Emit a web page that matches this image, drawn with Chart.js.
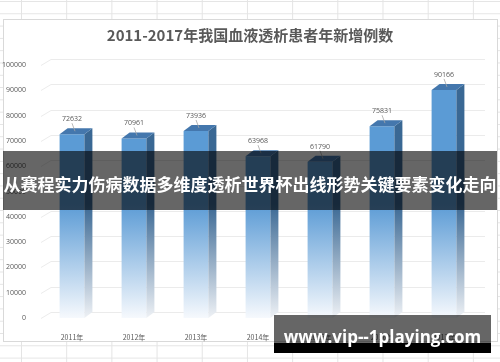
<!DOCTYPE html>
<html>
<head>
<meta charset="utf-8">
<script src="https://cdn.jsdelivr.net/npm/chart.js@4"></script>
<style>
  body {
    margin: 0;
    width: 500px;
    height: 362px;
    position: relative;
    overflow: hidden;
    background-color: #fff;
    background-image:
      linear-gradient(to right, #e4e4e4 1px, transparent 1px),
      linear-gradient(to bottom, #e4e4e4 1px, transparent 1px);
    background-size: 45.2px 12.3px;
    background-position: 21px 1px;
  }
  #frame {
    position: absolute;
    left: 3px; top: 19px;
    width: 495px; height: 323px;
    box-sizing: border-box;
    background: #fff;
    border: 1px solid #d9d9d9;
  }
  #c { position: absolute; left: 0; top: 0; }
  .banner {
    position: absolute;
    left: 3px; top: 151px;
    width: 494px; height: 59px;
    background: rgba(0, 0, 0, 0.6);
    color: #fff;
    font: bold 17px "Noto Sans CJK SC", sans-serif;
    text-align: center;
    line-height: 66px;
    white-space: nowrap;
  }
  .mark {
    position: absolute;
    left: 274px; top: 315px;
    width: 217px; height: 38px;
    background: linear-gradient(to bottom, rgba(0, 0, 0, 0.6) 0, rgba(0, 0, 0, 0.6) 73%, #000 73%);
    color: #fff;
    font: bold 17px "Open Sans", sans-serif;
    text-align: center;
    line-height: 44px;
    white-space: nowrap;
  }
</style>
</head>
<body>
<div id="frame"></div>
<canvas id="c" width="500" height="362"></canvas>
<div class="banner">从赛程实力伤病数据多维度透析世界杯出线形势关键要素变化走向</div>
<div class="mark">www.vip--1playing.com</div>
<script>
// data
const years = ['2011年', '2012年', '2013年', '2014年', '2015年', '2016年', '2017年'];
const newCases = [72632, 70961, 73936, 63968, 61790, 75831, 90166];
const yMax = 100000;
const yStep = 10000;
const chartTitle = '2011-2017年我国血液透析患者年新增例数';

// 3d look
const BAR_DX = 8, BAR_DY = 6;
const GRID_DX = 10, GRID_DY = 6;

function vGradient(chart, top, bottom, color, fade) {
    const g = chart.ctx.createLinearGradient(0, top, 0, bottom);
    g.addColorStop(0, color);
    g.addColorStop(0.55, color);
    g.addColorStop(1, fade);
    return g;
}

// back wall grid lines with a little perspective
const gridPlugin = {
    id: 'grid3d',
    beforeDatasetsDraw(chart) {
        const { ctx, chartArea } = chart;
        const yScale = chart.scales.y;
        ctx.save();
        ctx.strokeStyle = '#ebebeb';
        ctx.lineWidth = 1;
        yScale.ticks.forEach((t) => {
            const y = Math.round(yScale.getPixelForValue(t.value)) + 0.5;
            ctx.beginPath();
            ctx.moveTo(chartArea.left, y);
            ctx.lineTo(chartArea.left + GRID_DX, y - GRID_DY);
            ctx.lineTo(chartArea.right + GRID_DX, y - GRID_DY);
            ctx.stroke();
        });
        ctx.restore();
    }
};

// side + top faces, value labels with leader lines
const barPlugin = {
    id: 'bars3d',
    afterDatasetsDraw(chart) {
        const { ctx, chartArea } = chart;
        const meta = chart.getDatasetMeta(0);
        const sideFill = vGradient(chart, chartArea.top, chartArea.bottom, '#3a6894', '#eef1f5');
        ctx.save();
        meta.data.forEach((bar, i) => {
            const half = bar.width / 2;
            const l = bar.x - half, r = bar.x + half;

            ctx.fillStyle = sideFill;
            ctx.beginPath();
            ctx.moveTo(r, bar.y);
            ctx.lineTo(r + BAR_DX, bar.y - BAR_DY);
            ctx.lineTo(r + BAR_DX, bar.base - BAR_DY);
            ctx.lineTo(r, bar.base);
            ctx.closePath();
            ctx.fill();

            ctx.fillStyle = '#4477ad';
            ctx.beginPath();
            ctx.moveTo(l, bar.y);
            ctx.lineTo(l + BAR_DX, bar.y - BAR_DY);
            ctx.lineTo(r + BAR_DX, bar.y - BAR_DY);
            ctx.lineTo(r, bar.y);
            ctx.closePath();
            ctx.fill();

            // leader line
            ctx.strokeStyle = '#a6a6a6';
            ctx.lineWidth = 0.8;
            ctx.beginPath();
            ctx.moveTo(bar.x, bar.y - 11);
            ctx.lineTo(bar.x + 3, bar.y - 3);
            ctx.stroke();

            ctx.fillStyle = '#595959';
            ctx.font = '7px "Open Sans", sans-serif';
            ctx.textAlign = 'center';
            ctx.textBaseline = 'middle';
            ctx.fillText(String(newCases[i]), bar.x, bar.y - 15);
        });
        ctx.restore();
    }
};

// title centred on the whole frame, not on the plot
const titlePlugin = {
    id: 'frameTitle',
    afterDraw(chart) {
        const { ctx } = chart;
        ctx.save();
        ctx.fillStyle = '#595959';
        ctx.font = 'bold 15px "Noto Sans CJK SC", sans-serif';
        ctx.textAlign = 'center';
        ctx.textBaseline = 'middle';
        ctx.fillText(chartTitle, chart.width / 2, 35);
        ctx.restore();
    }
};

new Chart(document.getElementById('c'), {
    type: 'bar',
    data: {
        labels: years,
        datasets: [{
            data: newCases,
            backgroundColor: (c) => {
                const a = c.chart.chartArea;
                if (!a) return '#5b9bd5';
                return vGradient(c.chart, a.top, a.bottom, '#5b9bd5', '#f6f9fd');
            },
            borderWidth: 0,
            categoryPercentage: 1,
            barPercentage: 0.4
        }]
    },
    options: {
        responsive: false,
        animation: false,
        layout: { padding: { left: 0, right: 25, top: 65, bottom: 0 } },
        plugins: {
            legend: { display: false },
            tooltip: { enabled: false },
            title: { display: false }
        },
        scales: {
            x: {
                grid: { display: false },
                border: { display: false },
                ticks: {
                    color: '#595959',
                    padding: 7,
                    font: { family: '"Noto Sans CJK SC", sans-serif', size: 7 }
                },
                afterFit: (s) => { s.height = 44; }
            },
            y: {
                min: 0,
                max: yMax,
                grid: { display: false },
                border: { display: false },
                ticks: {
                    stepSize: yStep,
                    color: '#595959',
                    padding: 7,
                    font: { family: '"Open Sans", sans-serif', size: 7 },
                    callback: (v) => String(v)
                },
                afterFit: (s) => { s.width = 41; }
            }
        }
    },
    plugins: [gridPlugin, barPlugin, titlePlugin]
});
</script>
</body>
</html>
